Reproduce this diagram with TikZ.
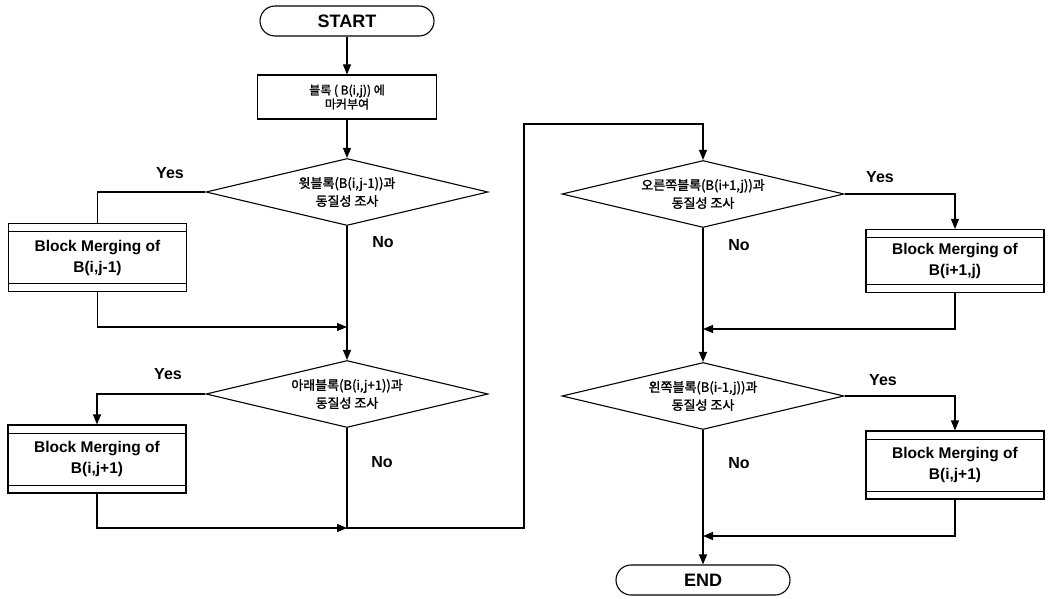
\documentclass[tikz,border=0pt]{standalone}
\usepackage{fontspec}
\setmainfont{Liberation Sans}
\newfontfamily\kr[FakeBold=1.6]{Noto Sans CJK KR}
\usetikzlibrary{shapes.geometric,arrows.meta}
\begin{document}
\begin{tikzpicture}[x=1pt,y=-1pt,
  line width=1.1pt,
  arr/.style={-{Triangle[length=10pt,width=8pt]}},
  terminal/.style={draw,rounded corners=15pt,minimum width=174pt,minimum height=30pt,inner sep=0pt,font=\bfseries\fontsize{18}{20}\selectfont},
  procbox/.style={draw,minimum width=179pt,minimum height=44pt,inner sep=0pt,align=center,font=\kr\fontsize{12}{14}\selectfont},
  decision/.style={draw,diamond,aspect=4.2,minimum width=282pt,minimum height=67pt,inner sep=0pt,align=center,font=\kr\fontsize{13}{18}\selectfont},
  mergebox/.style={draw,minimum width=178pt,minimum height=68pt,inner sep=0pt,align=center,font=\bfseries\fontsize{15.5}{21}\selectfont,
    path picture={\draw[line width=1pt] ([yshift=-8pt]path picture bounding box.north west) -- ([yshift=-8pt]path picture bounding box.north east)
      ([yshift=8pt]path picture bounding box.south west) -- ([yshift=8pt]path picture bounding box.south east);}},
  lbl/.style={font=\bfseries\fontsize{16}{18}\selectfont}
]
\useasboundingbox (0,0) rectangle (1049,599);

\node[terminal] (start) at (347,21) {START};
\node[procbox] (mark) at (347,97) {블록 ( B(i,j)) 에\\마커부여};
\node[decision] (d1) at (347,192) {윗블록(B(i,j-1))과\\동질성 조사};
\node[mergebox] (m1) at (97.5,257.5) {Block Merging of\\B(i,j-1)};
\node[decision] (d2) at (347,394) {아래블록(B(i,j+1))과\\동질성 조사};
\node[mergebox] (m2) at (97,459) {Block Merging of\\B(i,j+1)};
\node[decision] (d3) at (703,194) {오른쪽블록(B(i+1,j))과\\동질성 조사};
\node[mergebox,minimum height=63pt] (m3) at (955,261) {Block Merging of\\B(i+1,j)};
\node[decision] (d4) at (703,396) {왼쪽블록(B(i-1,j))과\\동질성 조사};
\node[mergebox] (m4) at (955,465) {Block Merging of\\B(i,j+1)};
\node[terminal] (end) at (703,580) {END};

\node[lbl] (y1) at (170,173) {Yes};
\node[lbl] (y2) at (168,374) {Yes};
\node[lbl] (y3) at (880,177) {Yes};
\node[lbl] (y4) at (883,380) {Yes};
\node[lbl] (n1) at (383,242) {No};
\node[lbl] (n2) at (382,462) {No};
\node[lbl] (n3) at (739,245) {No};
\node[lbl] (n4) at (739,463) {No};

\coordinate (j1) at (347,327);
\coordinate (j2) at (347,528);
\coordinate (lp1) at (524,528);
\coordinate (lp2) at (524,124);
\coordinate (j3) at (703,329);
\coordinate (j4) at (703,536);

\draw[arr] (start) -- (mark);
\draw[arr] (mark) -- (d1);
\draw (d1.west) -| (m1.north);
\draw[arr] (m1.south) |- (j1);
\draw[arr] (d1.south) -- (d2.north);
\draw[arr] (d2.west) -| (m2.north);
\draw[arr] (m2.south) |- (j2);
\draw[arr] (d2.south) -- (j2) -- (lp1) -- (lp2) -| (d3.north);
\draw[arr] (d3.east) -| (m3.north);
\draw[arr] (m3.south) |- (j3);
\draw[arr] (d3.south) -- (d4.north);
\draw[arr] (d4.east) -| (m4.north);
\draw[arr] (m4.south) |- (j4);
\draw[arr] (d4.south) -- (end.north);
\end{tikzpicture}
\end{document}
